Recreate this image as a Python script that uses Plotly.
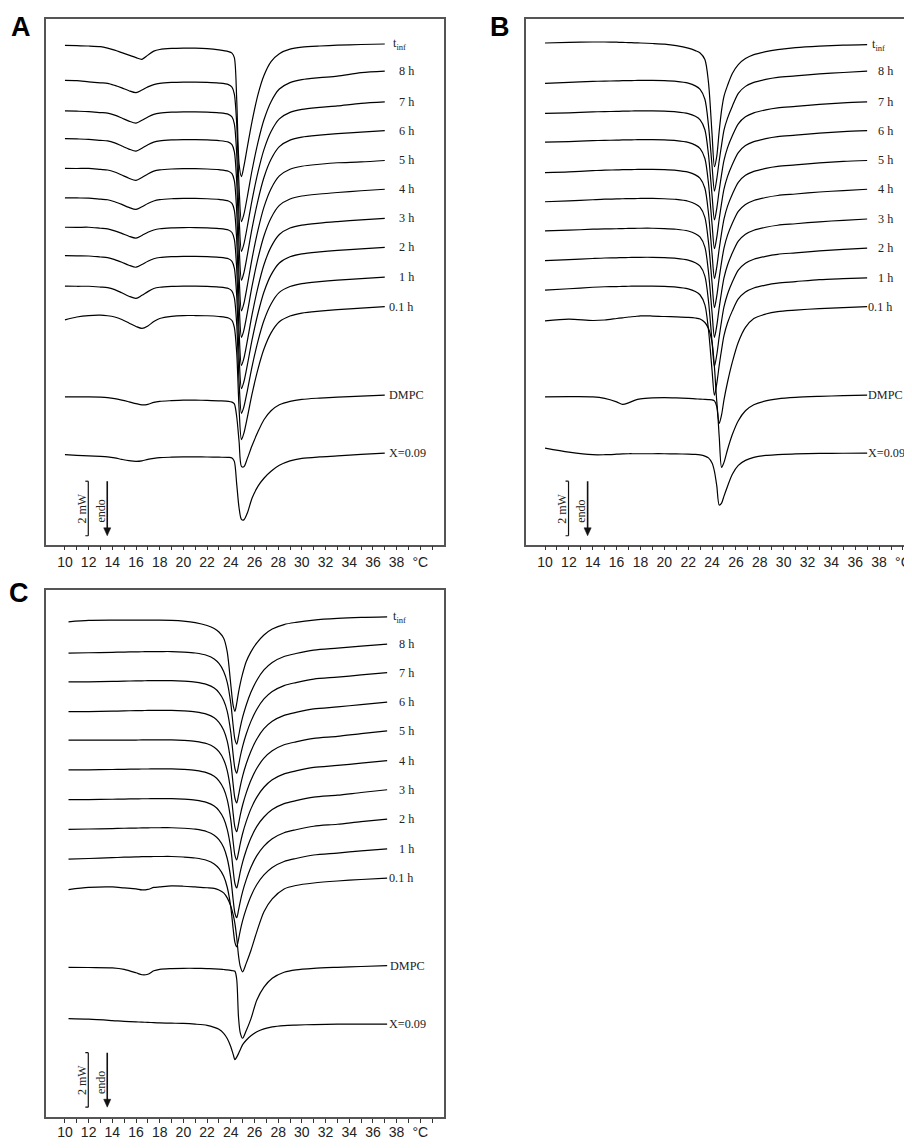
import plotly.graph_objects as go

# ---------------- DATA ----------------
# Temperature grids (deg C) for each panel
T_A = [10, 11, 12, 13, 13.6, 14.2, 14.8, 15.4, 16.0, 16.5, 17.0, 17.5, 18.0, 19, 20, 21, 22, 23, 23.8, 24.1,
       24.3, 24.5, 24.7, 24.9, 25.1, 25.4, 25.8, 26.3, 26.8, 27.4, 28.1, 29, 30, 31.5, 33, 35, 37]
T_B = [10, 12, 14, 15, 16, 16.5, 17, 17.5, 18, 19, 20, 21, 22, 22.6, 23.0, 23.4, 23.7, 24.0, 24.2, 24.4,
       24.6, 24.8, 25.0, 25.3, 25.7, 26.2, 26.8, 27.5, 28.5, 29.5, 31, 33, 35, 37]
T_C = [10.3, 12, 14, 15, 16, 16.5, 17, 17.5, 18, 19, 20, 21, 22, 22.6, 23.0, 23.4, 23.7, 24.0, 24.2, 24.35,
       24.5, 24.65, 24.8, 25.0, 25.3, 25.7, 26.2, 26.8, 27.5, 28.5, 29.5, 31, 33, 35, 37.2]

# Stacked endothermic heat flow (a.u., increasing downward; 55 a.u. = 2 mW)
A_TINF = [45.7, 46, 46.3, 47, 48.5, 50.5, 53, 55.5, 58, 59.7, 55.5, 51.5, 49.8, 48.8, 48.5, 48.5, 49, 50.3, 52, 53.5,
          58, 100, 165, 178, 168, 148, 122, 95, 76, 62, 54, 49.5, 47.5, 46.3, 45.5, 44.8, 44.3]
A_8H = [81, 81.3, 82.4, 83.4, 84, 86, 88.5, 91.4, 93.3, 90.7, 87.5, 85.2, 83.9, 83, 82.7, 82.7, 83, 83.7, 85.2, 87.7,
        94.7, 124.9, 188.2, 223.3, 216.3, 198, 171.3, 143.2, 120.7, 102.4, 89.7, 83.2, 80.2, 78.2, 76.7, 73.2, 71.7]
A_7H = [111.7, 112, 112.4, 113.4, 114, 116, 118.9, 122, 124, 121.2, 117.8, 115.2, 113.9, 113, 112.7, 112.7, 113, 113.7,
        115.2, 117.7, 124.7, 154.9, 218.2, 253.3, 246.3, 228, 201.3, 173.2, 150.7, 132.4, 119.7, 113.2, 110.2, 108.2,
        106.7, 104.2, 102.7]
A_6H = [139.7, 140, 140.4, 141.4, 142, 144, 147.1, 150.2, 152.3, 149.4, 145.9, 143.2, 141.9, 141, 140.7, 140.7, 141,
        141.7, 143.2, 145.7, 152.7, 183.2, 246.9, 282.3, 275.2, 256.8, 229.9, 201.6, 178.9, 160.5, 147.8, 141.2, 138.2,
        136.2, 134.7, 133.2, 131.7]
A_5H = [169.7, 169.8, 169.7, 170.7, 171.3, 173.3, 176.4, 179.6, 181.7, 178.8, 175.3, 172.5, 171.2, 170.3, 170, 170,
        170.3, 171, 172.5, 175, 182, 213, 277.5, 313.3, 306.1, 287.5, 260.3, 231.6, 208.7, 190.1, 177.2, 170.5, 167.5,
        165.5, 164, 163.2, 161.7]
A_4H = [199.3, 199.5, 199.7, 200.7, 201.3, 203.3, 206, 209, 211, 208.3, 205, 202.5, 201.2, 200.3, 200, 200, 200.3, 201,
        202.5, 205, 212, 242, 305, 340, 333, 314.8, 288.2, 260.2, 237.8, 219.6, 207, 200.5, 197.5, 195.5, 194, 192.2,
        190.7]
A_3H = [229, 229.1, 229, 230, 230.6, 232.6, 235.2, 238.1, 240, 237.3, 234.1, 231.8, 230.5, 229.6, 229.3, 229.3, 229.6,
        230.3, 231.8, 234.3, 241.3, 271, 333.6, 368.3, 361.3, 343.3, 316.9, 289.1, 266.8, 248.8, 236.3, 229.8, 226.8,
        224.8, 223.3, 221.5, 220]
A_2H = [257.7, 257.9, 258, 259, 259.6, 261.6, 264.3, 267.3, 269.3, 266.6, 263.3, 260.8, 259.5, 258.6, 258.3, 258.3,
        258.6, 259.3, 260.8, 263.3, 270.3, 298.3, 358.3, 391.7, 385, 367.7, 342.3, 315.7, 294.3, 277, 265, 258.8, 255.8,
        253.8, 252.3, 250.8, 249.3]
A_1H = [288.3, 288.5, 288.5, 289.3, 289.9, 291.9, 295.1, 298.5, 300.7, 297.6, 293.9, 290.8, 289.5, 288.6, 288.3, 288.3,
        288.6, 289.3, 290.8, 293.3, 300.3, 326.8, 384.6, 416.7, 410.3, 393.6, 369.2, 343.5, 323, 306.3, 294.7, 288.8,
        285.8, 283.8, 282.3, 280.8, 279.3]
A_01H = [322.3, 319.5, 318, 317.6, 318.2, 319.5, 322, 325.5, 329, 331, 328.5, 324, 321, 318.8, 318, 318, 318.2, 319,
         320.5, 323, 330, 355.5, 411.8, 443, 436.8, 420.5, 396.8, 371.8, 351.8, 335.5, 324.3, 318.5, 315.5, 313.5, 312,
         310.5, 309]
A_DMPC = [400, 400, 400, 400.3, 400.8, 401.8, 403.3, 405, 406.8, 408, 407.5, 405.5, 404.5, 403.8, 403.3, 403.3, 403.5,
          404, 404.5, 405.3, 407, 420, 445, 470, 470.5, 462, 449, 435, 423, 414, 408, 404.5, 402.5, 401.2, 400.2,
          399.2, 398.3]
A_X009 = [458.3, 459, 459.5, 460, 460.5, 461.5, 463, 464.3, 465, 464.5, 463, 462, 461.3, 460.8, 460.5, 460.5, 460.6,
          460.8, 461, 461.5, 465, 488, 512, 523.5, 524, 517, 502, 490, 482, 475, 469, 464.5, 462, 460.5, 459.5, 458,
          456.7]

B_TINF = [43.3, 42.7, 42.3, 42.3, 42.5, 42.7, 42.9, 43.1, 43.3, 43.8, 44.5, 46, 48.5, 51, 53.3, 60, 83, 135, 168, 157,
          132, 111, 97, 86, 74, 65, 59, 55, 52, 50, 48, 46.5, 45.5, 45]
B_8H = [84, 83, 82, 81.7, 81.5, 81.3, 81.2, 81.1, 81, 81, 81.3, 82, 83.8, 86.5, 90, 100, 126, 167, 192.7, 180,
        162, 146, 131, 119, 107, 94, 87, 83, 80, 78, 76.5, 74.5, 73, 71.7]
B_7H = [114.3, 113.7, 112.7, 112.4, 112.2, 112, 111.9, 111.8, 111.7, 111.7, 112, 112.7, 114.5, 117.2, 120.7, 130.7,
        155.7, 196.7, 221.7, 209.7, 191.7, 175.7, 161.7, 148.7, 136.7, 124.7, 117.7, 113.7, 110.7, 108.7, 107.2, 105.2,
        103.7, 102.7]
B_6H = [143.3, 142.7, 141.7, 141.4, 141.2, 141, 140.9, 140.8, 140.7, 140.7, 141, 141.7, 143.5, 146.2, 149.7, 159.7,
        184.7, 225.7, 250.7, 238.7, 220.7, 204.7, 190.7, 177.7, 165.7, 153.7, 146.7, 142.7, 139.7, 137.7, 136.2, 134.2,
        132.7, 131.7]
B_5H = [174, 173.2, 172, 171.4, 171.2, 171, 170.9, 170.8, 170.7, 170.7, 171, 171.7, 173.5, 176.2, 179.7, 189.7, 214.7,
        255.7, 280.7, 268.7, 250.7, 234.7, 220.7, 207.7, 195.7, 183.7, 176.7, 172.7, 169.7, 167.7, 166.2, 164.2, 162.7,
        161.7]
B_4H = [203.3, 202.5, 201.3, 200.7, 200.5, 200.3, 200.2, 200.1, 200, 200, 200.3, 201, 202.8, 205.5, 209, 219, 244,
        285, 310, 298, 280, 264, 250, 237, 225, 213, 206, 202, 199, 197, 195.5, 193.5, 192, 190.7]
B_3H = [232.7, 232, 231, 230.7, 230.5, 230.3, 230.2, 230.1, 230, 230, 230.3, 231, 232.8, 235.5, 239, 249, 274, 315,
        340, 328, 310, 294, 280, 267, 255, 243, 236, 232, 229, 227, 225.5, 223.5, 222, 220.7]
B_2H = [262.7, 261.7, 260.5, 260, 259.8, 259.6, 259.5, 259.4, 259.3, 259.3, 259.6, 260.3, 262.1, 264.8, 268.3, 278.3,
        303.3, 344.3, 369.3, 357.3, 339.3, 323.3, 309.3, 296.3, 284.3, 272.3, 265.3, 261.3, 258.3, 256.3, 254.8, 252.8,
        251.3, 250]
B_1H = [292.3, 291, 289.5, 289, 288.8, 288.6, 288.5, 288.4, 288.3, 288.3, 288.6, 289.3, 291.1, 293.8, 297.3, 307.3,
        332.3, 373.3, 398.3, 386.3, 368.3, 352.3, 338.3, 325.3, 313.3, 301.3, 294.3, 290.3, 287.3, 285.3, 283.8, 281.8,
        280.8, 280]
B_01H = [323.3, 321.7, 323, 322.5, 321, 320.3, 319.5, 319, 318.3, 318.5, 319, 319.3, 319.8, 320.5, 321.5, 325, 331,
         345, 370, 405, 426.7, 418, 403, 385, 365, 345, 330, 321, 316.5, 314, 312.5, 311, 310, 309]
B_DMPC = [400, 399.8, 400, 401.5, 405, 407.5, 406, 403.5, 402, 401, 400.7, 401, 401.5, 402, 402.3, 402.5, 402.7, 403,
          404, 410, 440, 471, 466, 453, 438, 424, 414, 408, 404, 402, 400.5, 399.5, 398.8, 398.3]
B_X009 = [451.7, 455.7, 458.3, 458.3, 457.8, 457.5, 457.3, 457.3, 457.3, 457.3, 457.3, 457.5, 457.7, 458, 458.5, 459.7,
          461.5, 466.7, 475, 490, 509, 507, 500, 490, 478, 469, 464, 461, 459, 458.3, 457.5, 457, 456.8, 456.7]

C_TINF = [51.7, 50.3, 50, 50, 50, 50, 50, 50, 50, 50.3, 51, 52.5, 55.5, 58.5, 62, 68.3, 82, 115, 136, 142,
          134, 123, 114, 104, 92, 82, 73, 65, 59, 54.5, 52.3, 50, 48.3, 47.3, 46.7]
C_8H = [83.3, 82.9, 82.5, 82.2, 82, 81.9, 81.8, 81.7, 81.7, 81.7, 82.2, 83.2, 85.7, 89.2, 93.7, 101.7, 112.7, 133.9,
        156.3, 170.3, 175, 167.5, 158.2, 147.9, 135.8, 122.8, 110.6, 100.2, 92.7, 86.7, 83.7, 80.2, 78.2, 76.3, 74.3]
C_7H = [112.3, 112.2, 111.8, 111.5, 111.3, 111.2, 111.1, 111, 111, 111, 111.5, 112.5, 115, 118.5, 123, 131, 142, 163.2,
        185.6, 199.6, 204.3, 196.8, 187.5, 177.2, 165.1, 152.1, 139.9, 129.5, 122, 116, 113, 109.5, 107.5, 105.3, 103]
C_6H = [142.3, 142.2, 141.8, 141.5, 141.3, 141.2, 141.1, 141, 141, 141, 141.5, 142.5, 145, 148.5, 153, 161, 172, 193.2,
        215.6, 229.6, 234.3, 226.8, 217.5, 207.2, 195.1, 182.1, 169.9, 159.5, 152, 146, 143, 139.5, 137.5, 135.2, 132.7]
C_5H = [171, 171, 171, 170.9, 170.9, 170.8, 170.8, 170.7, 170.7, 170.7, 171.2, 172.2, 174.7, 178.2, 182.7, 190.7,
        201.7, 222.6, 244.8, 258.7, 263.3, 255.9, 246.6, 236.4, 224.4, 211.4, 199.4, 189.2, 181.7, 175.7, 172.7, 169.2,
        167.2, 164.5, 161.7]
C_4H = [201, 200.9, 200.6, 200.4, 200.2, 200.1, 200.1, 200, 200, 200, 200.5, 201.5, 204, 207.5, 212, 220, 231, 251.4,
        273.4, 287.1, 291.7, 284.4, 275.2, 265.1, 253.2, 240.3, 228.4, 218.5, 211, 205, 202, 198.5, 196.5, 194.2, 191.7]
C_3H = [231, 230.9, 230.6, 230.4, 230.2, 230.1, 230.1, 230, 230, 230, 230.5, 231.5, 234, 237.5, 242, 250, 261, 280.4,
        302, 315.5, 320, 312.8, 303.8, 293.9, 282.2, 269.6, 257.9, 248.5, 241, 235, 232, 228.5, 226.5, 223.8, 221]
C_2H = [261, 260.6, 260.1, 259.8, 259.6, 259.5, 259.4, 259.3, 259.3, 259.3, 259.8, 260.8, 263.3, 266.8, 271.3, 279.3,
        290.3, 310.1, 331.9, 345.5, 350, 342.7, 333.7, 323.7, 311.9, 299.2, 287.4, 277.8, 270.3, 264.3, 261.3, 257.8,
        255.8, 253.2, 250.7]
C_1H = [291, 290.3, 289.5, 289, 288.7, 288.5, 288.4, 288.3, 288.3, 288.3, 288.8, 289.8, 292.3, 295.8, 300.3, 308.3,
        319.3, 339.3, 361.1, 374.8, 379.3, 372, 362.9, 352.9, 341.1, 328.3, 316.5, 306.8, 299.3, 293.3, 290.3, 286.8,
        284.8, 282.7, 280.7]
C_01H = [321.7, 319.5, 319, 320, 321, 322, 321.5, 319.5, 319, 318, 318.3, 319, 319.8, 320.5, 322, 325, 330, 338.3, 347,
         356, 370, 388, 399, 404.5, 396, 383, 364, 344, 331, 321, 317.5, 315, 313, 311.5, 310]
C_DMPC = [400, 400.2, 400.5, 402, 405.5, 407.5, 407, 403.5, 402, 401.3, 401, 401, 401.3, 401.5, 401.8, 402.2, 402.5,
          403, 403.5, 404, 412, 450, 466, 471.5, 464, 452, 433, 420, 411, 405, 402.5, 401, 400, 399.2, 398.3]
C_X009 = [451.7, 452.3, 453.7, 454.5, 455, 455.3, 455.5, 455.8, 456, 456.3, 456.6, 457.3, 458.5, 460.5, 462.5, 466.5,
          471.7, 480, 487.5, 493, 490.5, 487, 483, 478, 473.5, 469, 465, 462, 460, 458.7, 458.2, 457.7, 457.3, 457.3,
          457.3]

CURVE_LABELS = ["t<sub>inf</sub>", "8 h", "7 h", "6 h", "5 h", "4 h", "3 h", "2 h", "1 h", "0.1 h", "DMPC", "X=0.09"]
X_TICK_VALUES = list(range(10, 42))
SCALE_BAR_MW = 2
AU_PER_MW = 27.5

A_CURVES = [A_TINF, A_8H, A_7H, A_6H, A_5H, A_4H, A_3H, A_2H, A_1H, A_01H, A_DMPC, A_X009]
B_CURVES = [B_TINF, B_8H, B_7H, B_6H, B_5H, B_4H, B_3H, B_2H, B_1H, B_01H, B_DMPC, B_X009]
C_CURVES = [C_TINF, C_8H, C_7H, C_6H, C_5H, C_4H, C_3H, C_2H, C_1H, C_01H, C_DMPC, C_X009]

# ---------------- LAYOUT / STYLE ----------------
PAGE_W, PAGE_H = 912, 1148
BODY_MARGIN = 8                      # default page margin around the plot div
W, H = PAGE_W - BODY_MARGIN, PAGE_H - 2 * BODY_MARGIN   # no vertical page overflow
FRAME = "#555555"
SERIF = "Liberation Serif, Times New Roman, serif"
SANS = "Liberation Sans, Arial, sans-serif"
LABEL_SIZE = 12.2


def px_x(px):
    return (px - BODY_MARGIN) / W


def px_y(py):
    return 1 - (py - BODY_MARGIN) / H


# label gaps (deg C) after curve end
GAPS_A = [0.6, 1.15, 1.15, 1.15, 1.15, 1.15, 1.15, 1.15, 1.15, 0.3, 0.3, 0.3]
GAPS_B = [0.3, 0.85, 0.85, 0.85, 0.85, 0.85, 0.85, 0.85, 0.85, 0.0, 0.0, 0.0]
GAPS_C = [0.4, 0.95, 0.95, 0.95, 0.95, 0.95, 0.95, 0.95, 0.95, 0.05, 0.12, 0.05]

panels = [
    dict(T=T_A, curves=A_CURVES, gaps=GAPS_A, xa="x", ya="y", bar_top=485),
    dict(T=T_B, curves=B_CURVES, gaps=GAPS_B, xa="x2", ya="y2", bar_top=485),
    dict(T=T_C, curves=C_CURVES, gaps=GAPS_C, xa="x3", ya="y3", bar_top=486),
]

fig = go.Figure()
annotations = []
shapes = []

for p in panels:
    for vals, lab, gap in zip(p["curves"], CURVE_LABELS, p["gaps"]):
        fig.add_trace(go.Scatter(
            x=p["T"], y=vals, mode="lines",
            line=dict(color="black", width=1.2, shape="spline", smoothing=0.8),
            xaxis=p["xa"], yaxis=p["ya"], hoverinfo="skip", showlegend=False))
        annotations.append(dict(
            x=p["T"][-1] + gap, y=vals[-1], xref=p["xa"], yref=p["ya"], text=lab,
            showarrow=False, xanchor="left", yanchor="middle", borderpad=0,
            font=dict(family=SERIF, size=LABEL_SIZE, color="#222")))
    # scale bar "]" + labels + endo arrow
    top = p["bar_top"]
    bot = top + SCALE_BAR_MW * AU_PER_MW
    xb = 11.97
    xa_ = 13.57
    for (x0, y0, x1, y1) in [(xb, top, xb, bot), (xb - 0.25, top, xb, top), (xb - 0.25, bot, xb, bot),
                             (xa_, top, xa_, bot - 6)]:
        shapes.append(dict(type="line", xref=p["xa"], yref=p["ya"], x0=x0, y0=y0, x1=x1, y1=y1,
                           line=dict(color="#111", width=1.6 if x0 == xa_ else 1.2)))
    shapes.append(dict(type="path", xref=p["xa"], yref=p["ya"],
                       path=f"M {xa_ - 0.3},{bot - 8} L {xa_ + 0.3},{bot - 8} L {xa_},{bot} Z",
                       fillcolor="#111", line=dict(color="#111", width=0.5)))
    annotations.append(dict(x=11.45, y=(top + bot) / 2, xref=p["xa"], yref=p["ya"], text="2 mW",
                            textangle=-90, showarrow=False, font=dict(family=SERIF, size=12, color="#222")))
    annotations.append(dict(x=13.05, y=(top + bot) / 2 + 3, xref=p["xa"], yref=p["ya"], text="endo",
                            textangle=-90, showarrow=False, font=dict(family=SERIF, size=12, color="#222")))

# panel letters
for letter, px, py in [("A", 21, 27), ("B", 500, 27), ("C", 19, 598)]:
    annotations.append(dict(x=px_x(px), y=px_y(py), xref="paper", yref="paper", text=f"<b>{letter}</b>",
                            showarrow=False, xanchor="center", yanchor="middle",
                            font=dict(family=SANS, size=27, color="black")))

ticktext = []
for v in X_TICK_VALUES:
    if v == 40:
        ticktext.append("°C")
    elif v % 2 == 0 and v <= 38:
        ticktext.append(str(v))
    else:
        ticktext.append("")


def xaxis(domain, rng, standoff=None):
    d = dict(domain=domain, range=rng, showline=True, linecolor=FRAME, linewidth=1.5, mirror=True,
             ticks="outside", ticklen=4, tickwidth=1, tickcolor="#333",
             tickvals=X_TICK_VALUES, ticktext=ticktext,
             tickfont=dict(family=SANS, size=14, color="#222"),
             showgrid=False, zeroline=False, fixedrange=True)
    if standoff is not None:
        d["ticklabelstandoff"] = standoff
    return d


def yaxis(domain, rng, mirror):
    return dict(domain=domain, range=rng, showline=True, linecolor=FRAME, linewidth=1.5, mirror=mirror,
                ticks="", showticklabels=False, showgrid=False, zeroline=False, fixedrange=True)


fig.update_layout(
    width=W, height=H, margin=dict(l=0, r=0, t=0, b=0),
    paper_bgcolor="white", plot_bgcolor="white", showlegend=False,
    xaxis=xaxis([px_x(46), px_x(444)], [8.4, 42.0]),
    yaxis=yaxis([px_y(549), px_y(19)], [549, 19], True),
    xaxis2=xaxis([px_x(525.7), 1.0], [8.38, 40.76]),
    yaxis2=yaxis([px_y(549), px_y(19)], [549, 19], False),
    xaxis3=xaxis([px_x(46), px_x(444)], [8.4, 42.0], standoff=-2),
    yaxis3=yaxis([px_y(1125.7), px_y(594.3)], [550.7, 19.3], True),
    annotations=annotations, shapes=shapes,
)
fig.update_layout(xaxis2=dict(anchor="y2"), yaxis2=dict(anchor="x2"),
                  xaxis3=dict(anchor="y3"), yaxis3=dict(anchor="x3"))

fig.write_html("out.html")
